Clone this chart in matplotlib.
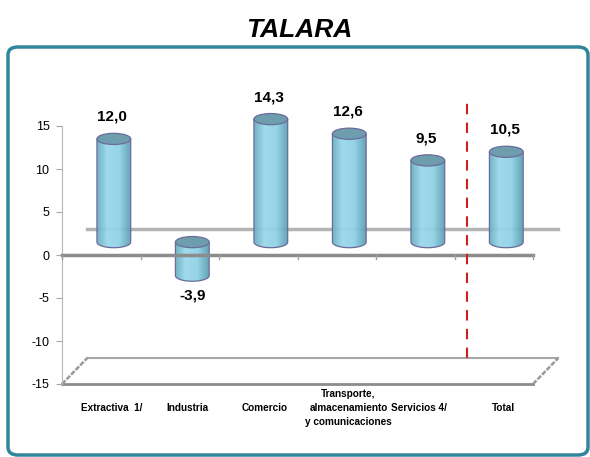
import matplotlib
matplotlib.use("Agg")
import matplotlib.pyplot as plt
import numpy as np
from matplotlib.patches import Ellipse, PathPatch, FancyBboxPatch
from matplotlib.path import Path
from matplotlib.colors import LinearSegmentedColormap

plt.rcParams['font.family'] = ['Liberation Sans', 'DejaVu Sans']

TITLE = "TALARA"
categories = ["Extractiva  1/", "Industria", "Comercio",
              "Transporte,\nalmacenamiento\ny comunicaciones", "Servicios 4/", "Total"]
values = [12.0, -3.9, 14.3, 12.6, 9.5, 10.5]
yticks = [-15, -10, -5, 0, 5, 10, 15]

W, H = 590, 457
DX, DY = 0.32, 3.0      # depth of the fake 3d box, in data units
BAR_W = 0.43
ELL_H = 1.3

OUTLINE = '#6B6B9B'
TOP_COL = '#6E9EAE'
body_cmap = LinearSegmentedColormap.from_list(
    'cyl', [(0, '#68AEC2'), (0.3, '#9AD8EA'), (0.65, '#90D2E6'), (1, '#5C9FB4')])

fig = plt.figure(figsize=(W / 100, H / 100), dpi=100)

# rounded frame
frame = FancyBboxPatch((8 / W, 1 - 455 / H), 580 / W, 408 / H,
                       boxstyle="round,pad=0,rounding_size=0.017",
                       transform=fig.transFigure, fill=False,
                       edgecolor='#31859C', linewidth=2.5)
fig.patches.append(frame)

fig.text(299 / W, 1 - 30 / H, TITLE, ha='center', va='center',
         fontsize=19, fontweight='bold', fontstyle='italic')

# axes: -15 at y=384px, 8.6 px per unit
ymin, ymax = -15, 18.5
px_unit = 8.6
ax_left, ax_right = 62, 533
ax_bottom = 384
ax_h = (ymax - ymin) * px_unit
ax = fig.add_axes([ax_left / W, 1 - ax_bottom / H, (ax_right - ax_left) / W, ax_h / H])
ax.set_xlim(-0.5, len(categories) - 0.5)
ax.set_ylim(ymin, ymax)
for s in ['top', 'right', 'bottom']:
    ax.spines[s].set_visible(False)
ax.spines['left'].set_bounds(-15, 15)
ax.spines['left'].set_color('#B8B8B8')
ax.set_yticks(yticks)
ax.set_yticklabels([str(t) for t in yticks], fontsize=9)
ax.tick_params(axis='y', direction='out', length=4, color='#A8A8A8', pad=5)
ax.set_xticks([])
ax.patch.set_alpha(0)

x0, x1 = -0.5, len(categories) - 0.5

# back wall zero line
ax.plot([x0 + DX, x1 + DX], [DY, DY], color='#B4B4B4', lw=2.5, zorder=1, clip_on=False)

# floor
ax.plot([x0, x1], [-15, -15], color='#8C8C8C', lw=2, zorder=1, clip_on=False)
ax.plot([x0 + DX, x1 + DX], [-15 + DY, -15 + DY], color='#A8A8A8', lw=1.5, zorder=1, clip_on=False)
for xe in (x0, x1):
    ax.plot([xe, xe + DX], [-15, -15 + DY], color='#9A9A9A', lw=1.8, ls=(0, (2, 0.6)),
            zorder=1, clip_on=False)

# cylinders
grad = np.linspace(0, 1, 64).reshape(1, -1)
for i, v in enumerate(values):
    cx = i + DX / 2
    lo = min(0, v) + DY / 2
    hi = max(0, v) + DY / 2
    a, b = BAR_W / 2, ELL_H / 2
    t = np.linspace(np.pi, 2 * np.pi, 40)
    verts = [(cx - a, hi), (cx - a, lo)]
    verts += list(zip(cx + a * np.cos(t), lo + b * np.sin(t)))
    verts += [(cx + a, hi), (cx - a, hi)]
    codes = [Path.MOVETO] + [Path.LINETO] * (len(verts) - 2) + [Path.CLOSEPOLY]
    body = PathPatch(Path(verts, codes), facecolor='none', edgecolor=OUTLINE,
                     lw=0.9, zorder=3)
    ax.add_patch(body)
    im = ax.imshow(grad, extent=[cx - a, cx + a, lo - b, hi], aspect='auto',
                   cmap=body_cmap, zorder=2.9, alpha=0.94)
    im.set_clip_path(body)
    ax.add_patch(Ellipse((cx, hi), BAR_W, ELL_H, facecolor=TOP_COL,
                         edgecolor=OUTLINE, lw=0.9, zorder=3.1))
    lab = f"{v:.1f}".replace('.', ',')
    if v >= 0:
        ax.text(cx - 0.02, hi + 2.55, lab, ha='center', va='center', fontsize=11,
                fontweight='bold', zorder=5)
    else:
        ax.text(cx, lo - 2.3, lab, ha='center', va='center', fontsize=11,
                fontweight='bold', zorder=5)

ax.set_xlim(x0, x1)
ax.set_ylim(ymin, ymax)

# front zero line with category ticks
ax.plot([x0, x1], [0, 0], color='#8C8C8C', lw=2.5, zorder=4, clip_on=False)
tick_len = 4 / px_unit
for xb in np.arange(x0, x1 + 0.01, 1.0):
    ax.plot([xb, xb], [0, -tick_len], color='#A0A0A0', lw=1, zorder=4, clip_on=False)

# red divider before Total
ax.plot([4.5 + DX / 2] * 2, [-15 + DY, 18.4], color='#CC1F1F', lw=1.5,
        ls=(0, (5, 4)), zorder=4, clip_on=False)

# category labels under the floor
label_dx = [0.13, 0.1, 0.08, 0.15, 0.05, 0.12]
for i, c in enumerate(categories):
    ax.text(i + label_dx[i], -15 - 24 / px_unit, c, ha='center', va='center',
            fontsize=7.2, fontweight='bold', linespacing=1.45, clip_on=False)

fig.savefig("out.png", dpi=100)
